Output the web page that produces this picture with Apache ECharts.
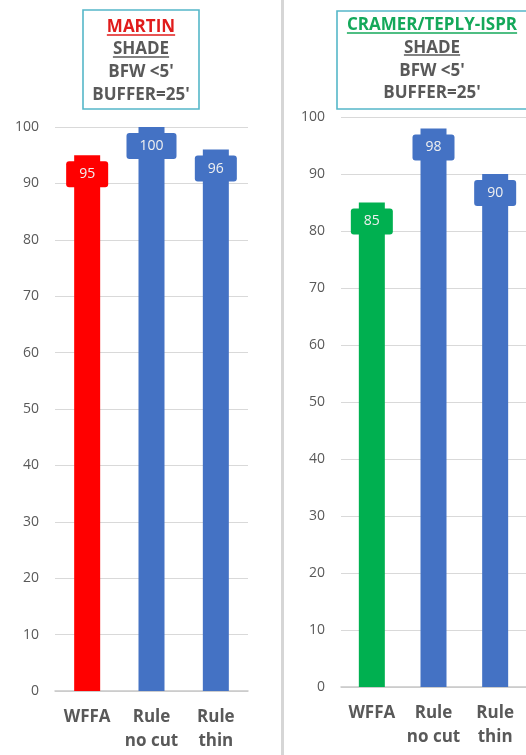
<!DOCTYPE html>
<html>
<head>
<meta charset="utf-8">
<script src="https://cdn.jsdelivr.net/npm/echarts@6/dist/echarts.min.js"></script>
<style>
  html, body { margin: 0; padding: 0; background: #ffffff; }
  #chart { width: 526px; height: 755px; }
</style>
</head>
<body>
<div id="chart"></div>
<script>
// Shade results, buffer 25', bankfull width < 5'
const categories = ['WFFA', 'Rule\nno cut', 'Rule\nthin'];
const martinValues = [95, 100, 96];
const cramerValues = [85, 98, 90];
const yMin = 0;
const yMax = 100;
const yStep = 10;

const martinColors = ['#ff0000', '#4472c4', '#4472c4'];
const cramerColors = ['#00b050', '#4472c4', '#4472c4'];

const FONT = '"Open Sans", "DejaVu Sans", sans-serif';
const GRAY = '#595959';

function barItems(values, colors) {
  return values.map((v, i) => ({
    value: v,
    itemStyle: { color: colors[i] },
    label: { backgroundColor: colors[i] }
  }));
}

function measure(text, size) {
  const ctx = document.createElement('canvas').getContext('2d');
  ctx.font = 'bold ' + size + 'px ' + FONT;
  return ctx.measureText(text).width;
}

// Header box: lines of text, the first two underlined
function headerBox(cx, box, lines) {
  const children = [{
    type: 'rect',
    shape: box,
    style: { fill: '#ffffff', stroke: '#55b7c9', lineWidth: 1.6 }
  }];
  lines.forEach(l => {
    children.push({
      type: 'text',
      x: cx, y: l.y,
      style: {
        text: l.text, fill: l.color || GRAY,
        font: 'bold 17px ' + FONT,
        align: 'center', verticalAlign: 'middle'
      }
    });
    if (l.underline != null) {
      const w = measure(l.text, 17);
      children.push({
        type: 'line',
        shape: { x1: cx - w / 2, y1: l.underline, x2: cx + w / 2, y2: l.underline },
        style: { stroke: l.color || GRAY, lineWidth: 1.5 }
      });
    }
  });
  return { type: 'group', children: children };
}

const labelStyle = {
  show: true,
  position: 'insideTop',
  distance: 6,
  padding: [6, 13],
  borderRadius: 3,
  color: '#f0f0f0',
  fontSize: 14,
  lineHeight: 14,
  fontFamily: FONT
};

function xAxisFor(gridIndex) {
  return {
    type: 'category',
    gridIndex: gridIndex,
    data: categories,
    axisTick: { show: false },
    axisLine: { lineStyle: { color: '#c8c8c8', width: 1.5 } },
    axisLabel: {
      color: GRAY, fontFamily: FONT, fontWeight: 'bold',
      fontSize: 17, lineHeight: 24, margin: 14, interval: 0
    }
  };
}

function yAxisFor(gridIndex) {
  return {
    type: 'value',
    gridIndex: gridIndex,
    min: yMin, max: yMax, interval: yStep,
    axisLine: { show: false },
    axisTick: { show: false },
    splitLine: { lineStyle: { color: '#d9d9d9', width: 1 } },
    axisLabel: { color: GRAY, fontFamily: FONT, fontSize: 14, margin: 16 }
  };
}

const chart = echarts.init(document.getElementById('chart'), null, { renderer: 'canvas' });

chart.setOption({
  backgroundColor: '#ffffff',
  animation: false,
  grid: [
    { left: 55, width: 193, top: 127, bottom: 64, containLabel: false },
    { left: 341, width: 192, top: 117, bottom: 68, containLabel: false }
  ],
  xAxis: [xAxisFor(0), xAxisFor(1)],
  yAxis: [yAxisFor(0), yAxisFor(1)],
  series: [
    {
      name: 'MARTIN',
      type: 'bar',
      xAxisIndex: 0, yAxisIndex: 0,
      barWidth: 26,
      data: barItems(martinValues, martinColors),
      label: labelStyle
    },
    {
      name: 'CRAMER/TEPLY-ISPR',
      type: 'bar',
      xAxisIndex: 1, yAxisIndex: 1,
      barWidth: 26,
      data: barItems(cramerValues, cramerColors),
      label: labelStyle
    }
  ],
  graphic: [
    {
      type: 'rect',
      shape: { x: 281, y: 0, width: 3, height: 755 },
      style: { fill: '#d6d6d6' }
    },
    headerBox(141, { x: 83, y: 10, width: 116, height: 99 }, [
      { text: 'MARTIN', y: 27, color: '#e01b1b', underline: 35 },
      { text: 'SHADE', y: 49.5, underline: 57 },
      { text: "BFW <5'", y: 72.5 },
      { text: "BUFFER=25'", y: 95.5 }
    ]),
    headerBox(432, { x: 337, y: 11, width: 200, height: 98 }, [
      { text: 'CRAMER/TEPLY-ISPR', y: 25, color: '#14a85a', underline: 33 },
      { text: 'SHADE', y: 48, underline: 55 },
      { text: "BFW <5'", y: 71 },
      { text: "BUFFER=25'", y: 93 }
    ])
  ]
});
</script>
</body>
</html>
